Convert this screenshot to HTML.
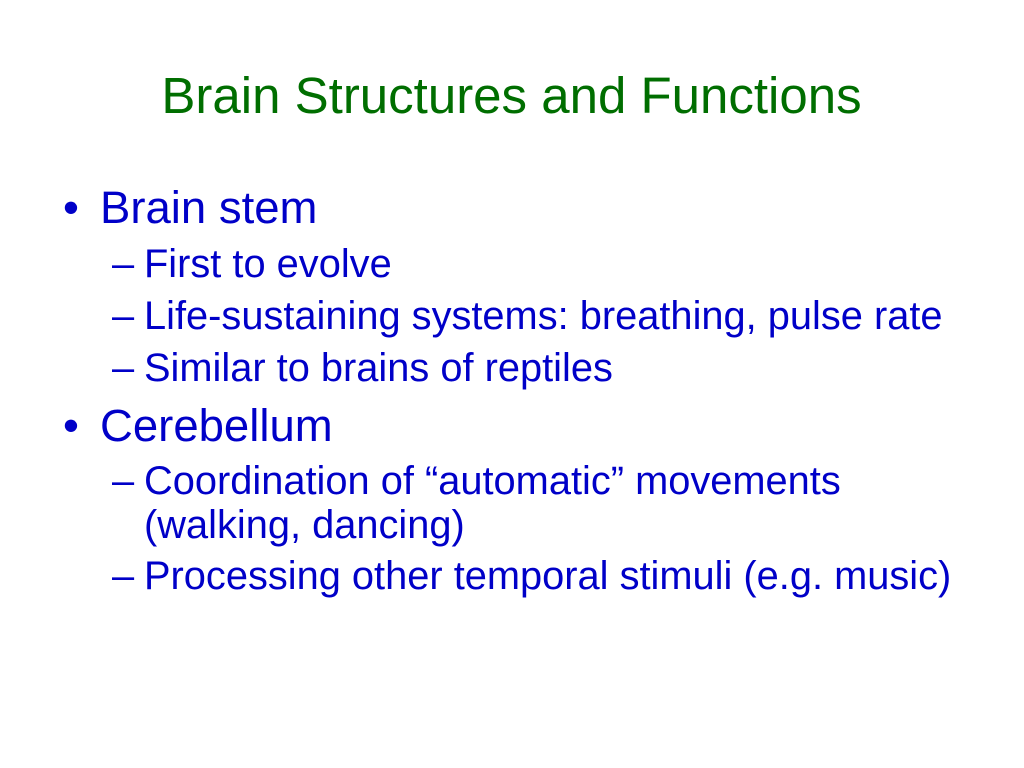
<!DOCTYPE html>
<html>
<head>
<meta charset="utf-8">
<style>
  html, body { margin: 0; padding: 0; background: #ffffff; }
  body { width: 1024px; height: 768px; overflow: hidden; }
  svg { display: block; }
  text { font-family: "Liberation Sans", Arial, Helvetica, sans-serif; }
  .t { fill: #006e00; font-size: 51px; }
  .l1 { fill: #0000c8; font-size: 45.5px; }
  .l2 { fill: #0000c8; font-size: 39.8px; }
</style>
</head>
<body>
<svg width="1024" height="768" viewBox="0 0 1024 768" xmlns="http://www.w3.org/2000/svg">
  <rect x="0" y="0" width="1024" height="768" fill="#ffffff"/>
  <text class="t" x="511.5" y="113" text-anchor="middle">Brain Structures and Functions</text>

  <text class="l1" x="63" y="223">•</text>
  <text class="l1" x="100" y="223">Brain stem</text>

  <text class="l2" x="112" y="277">–</text>
  <text class="l2" x="144" y="277">First to evolve</text>

  <text class="l2" x="112" y="329">–</text>
  <text class="l2" x="144" y="329">Life-sustaining systems: breathing, pulse rate</text>

  <text class="l2" x="112" y="381">–</text>
  <text class="l2" x="144" y="381">Similar to brains of reptiles</text>

  <text class="l1" x="63" y="441">•</text>
  <text class="l1" x="100" y="441">Cerebellum</text>

  <text class="l2" x="112" y="494">–</text>
  <text class="l2" x="144" y="494">Coordination of “automatic” movements</text>
  <text class="l2" x="144" y="538">(walking, dancing)</text>

  <text class="l2" x="112" y="589">–</text>
  <text class="l2" x="144" y="589">Processing other temporal stimuli (e.g. music)</text>
</svg>
</body>
</html>
